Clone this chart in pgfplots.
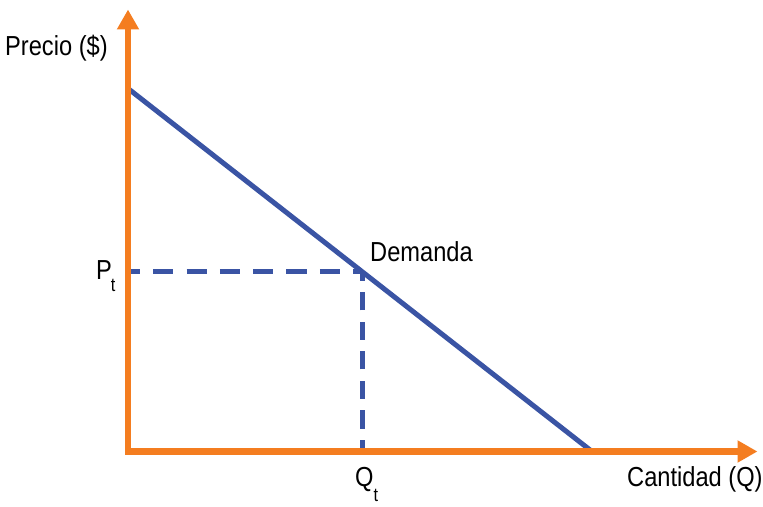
\documentclass[border=0pt]{standalone}
\usepackage{pgfplots}
\pgfplotsset{compat=1.18}
\usetikzlibrary{arrows.meta}
\usepackage{fontspec}
\setmainfont[FakeStretch=0.86]{Liberation Sans}
\definecolor{axorange}{RGB}{244,125,32}
\definecolor{dblue}{RGB}{58,84,164}
\newcommand\lbl{\fontsize{27.5}{33}\selectfont}
\newcommand\sub[2]{\raisebox{-#1}{\fontsize{19}{19}\selectfont #2}}
\begin{document}
\begin{tikzpicture}
\begin{axis}[
  x=1pt, y=1pt,
  xmin=0, xmax=629.5, ymin=0, ymax=442,
  enlargelimits=false,
  axis lines=left,
  axis on top,
  clip=false,
  xtick=\empty, ytick=\empty,
  axis line style={draw=axorange, line width=6.5pt, line cap=rect,
    -{Triangle[length=20pt,width=21pt]}},
]
% demand curve
\addplot[dblue, line width=5pt] coordinates {(0,363) (464,0)};
% dashed guides
\addplot[dblue, line width=5pt, dash pattern=on 20pt off 13.3pt, dash phase=8pt] coordinates {(0,180) (234,180)};
\addplot[dblue, line width=5pt, dash pattern=on 18pt off 11.5pt, dash phase=6.5pt] coordinates {(234,0) (234,180)};
% labels
\node[anchor=base west, inner sep=0pt] at (axis cs:-123,395.5) {\lbl Precio (\$)};
\node[anchor=base west, inner sep=0pt] at (axis cs:242,189.5) {\lbl Demanda};
\node[anchor=base west, inner sep=0pt] at (axis cs:-32,171.5) {\lbl P\kern-1pt\sub{12pt}{t}};
\node[anchor=base west, inner sep=0pt] at (axis cs:227,-34.5) {\lbl Q\kern0pt\sub{15pt}{t}};
\node[anchor=base west, inner sep=0pt] at (axis cs:499,-34.5) {\lbl Cantidad (Q)};
\coordinate (BL) at (axis cs:-128,-54.5);
\coordinate (TR) at (axis cs:635,451.5);
\end{axis}
\pgfresetboundingbox
\path[use as bounding box] (BL) rectangle (TR);
\end{tikzpicture}
\end{document}
